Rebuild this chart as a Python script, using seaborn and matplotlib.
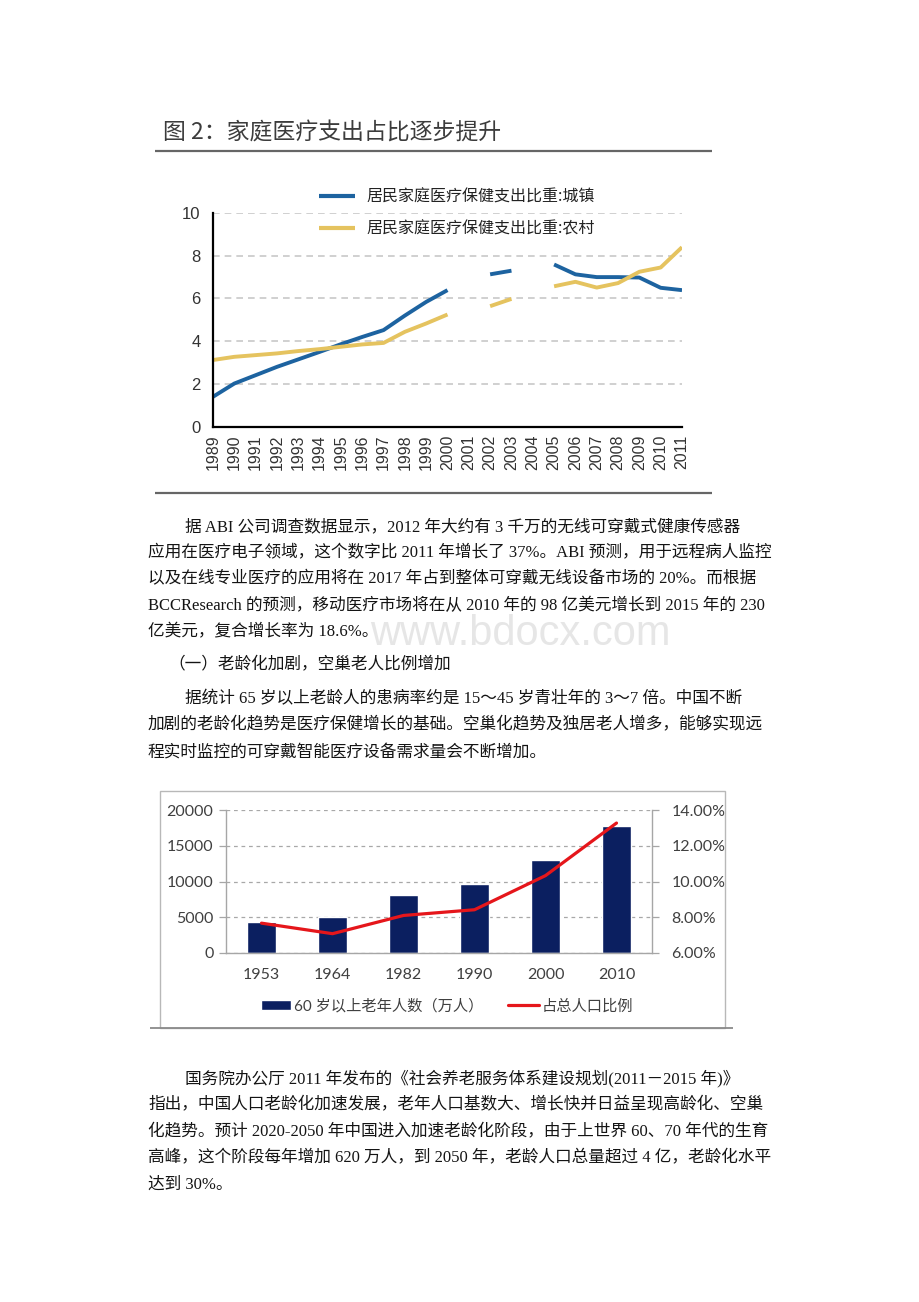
import numpy as np
import pandas as pd
import matplotlib
matplotlib.use("Agg")
import matplotlib.pyplot as plt
import seaborn as sns
from matplotlib.lines import Line2D
from matplotlib.patches import Rectangle

# ---------------- data: chart 1 ----------------
years1 = list(range(1989, 2012))
urban = [1.40, 2.02, 2.41, 2.80, 3.15, 3.50, 3.86, 4.20, 4.52, 5.20, 5.84, 6.39,
         np.nan, 7.13, 7.30, np.nan, 7.59, 7.13, 7.00, 7.00, 6.98, 6.50, 6.39]
rural = [3.12, 3.27, 3.35, 3.43, 3.54, 3.63, 3.74, 3.85, 3.92, 4.44, 4.83, 5.25,
         np.nan, 5.64, 5.98, np.nan, 6.57, 6.78, 6.51, 6.72, 7.25, 7.45, 8.40]
series_names = ["居民家庭医疗保健支出比重:城镇", "居民家庭医疗保健支出比重:农村"]
yticks1 = [0, 2, 4, 6, 8, 10]
title1 = "图 2：家庭医疗支出占比逐步提升"

# ---------------- data: chart 2 ----------------
years2 = ["1953", "1964", "1982", "1990", "2000", "2010"]
elderly = [4300, 5000, 8100, 9700, 13000, 17800]
ratio = [7.67, 7.08, 8.10, 8.42, 10.33, 13.27]
yticks2_left = [0, 5000, 10000, 15000, 20000]
yticks2_right = [6, 8, 10, 12, 14]
legend2 = ["60 岁以上老年人数（万人）", "占总人口比例"]

# ---------------- body text ----------------
para1 = [
    "据 ABI 公司调查数据显示，2012 年大约有 3 千万的无线可穿戴式健康传感器",
    "应用在医疗电子领域，这个数字比 2011 年增长了 37%。ABI 预测，用于远程病人监控",
    "以及在线专业医疗的应用将在 2017 年占到整体可穿戴无线设备市场的 20%。而根据",
    "BCCResearch 的预测，移动医疗市场将在从 2010 年的 98 亿美元增长到 2015 年的 230",
    "亿美元，复合增长率为 18.6%。",
]
heading = "（一）老龄化加剧，空巢老人比例增加"
para2 = [
    "据统计 65 岁以上老龄人的患病率约是 15～45 岁青壮年的 3～7 倍。中国不断",
    "加剧的老龄化趋势是医疗保健增长的基础。空巢化趋势及独居老人增多，能够实现远",
    "程实时监控的可穿戴智能医疗设备需求量会不断增加。",
]
para3 = [
    "国务院办公厅 2011 年发布的《社会养老服务体系建设规划(2011－2015 年)》",
    "指出，中国人口老龄化加速发展，老年人口基数大、增长快并日益呈现高龄化、空巢",
    "化趋势。预计 2020-2050 年中国进入加速老龄化阶段，由于上世界 60、70 年代的生育",
    "高峰，这个阶段每年增加 620 万人，到 2050 年，老龄人口总量超过 4 亿，老龄化水平",
    "达到 30%。",
]
watermark = "www.bdocx.com"

# ---------------- style ----------------
sns.set_style("white")
plt.rcParams["font.family"] = ["Liberation Sans", "Noto Sans CJK SC", "DejaVu Sans"]
CJK = ["Noto Sans CJK SC", "DejaVu Sans"]
SERIF = ["Liberation Serif", "Noto Sans CJK SC"]
BLUE = "#1d63a0"
YELLOW = "#e5c35f"
NAVY = "#0b1f60"
RED = "#e5161b"

W, H = 920, 1302
fig = plt.figure(figsize=(W / 100, H / 100), dpi=100)
fig.patch.set_facecolor("white")


def rect(l, t, r, b):
    return [l / W, 1 - b / H, (r - l) / W, (b - t) / H]


def hline(x0, x1, y, color, lw):
    fig.add_artist(Line2D([x0 / W, x1 / W], [1 - y / H, 1 - y / H],
                          transform=fig.transFigure, color=color, lw=lw,
                          solid_capstyle="butt"))


def body(x, yc, s, size=12):
    fig.text(x / W, 1 - (yc + 6.3) / H, s, family=SERIF, fontsize=size,
             color="#141414", ha="left", va="baseline", zorder=3)


# watermark (behind everything)
fig.text(520 / W, 1 - 634 / H, watermark, family=["Liberation Sans"],
         fontsize=30, color="#e6e6e6", ha="center", va="center", zorder=0)

# ================= chart 1 =================
fig.text(163 / W, 1 - (131 + 8.6) / H, title1, family=CJK, fontsize=16.5,
         color="#3c3c3c", ha="left", va="baseline", weight="medium")
hline(155, 712, 151, "#666666", 1.6)
hline(155, 712, 493, "#666666", 1.6)

ax1 = fig.add_axes(rect(213, 213, 682, 426.7))
df1 = pd.DataFrame({
    "year": years1 * 2,
    "value": urban + rural,
    "series": [series_names[0]] * len(years1) + [series_names[1]] * len(years1),
})
df1["seg"] = df1.groupby("series")["value"].transform(lambda s: s.isna().cumsum())
df1 = df1.dropna()
sns.lineplot(data=df1, x="year", y="value", hue="series", units="seg",
             estimator=None, palette=[BLUE, YELLOW], lw=2.8, ax=ax1,
             solid_capstyle="butt")
ax1.set_xlim(years1[0], years1[-1])
ax1.set_ylim(0, 10)
ax1.set_xlabel("")
ax1.set_ylabel("")
ax1.set_yticks(yticks1)
ax1.set_yticklabels([str(v) for v in yticks1], family=["Liberation Sans"], fontsize=12, color="#333333")
ax1.set_xticks(years1)
ax1.set_xticklabels([str(y) for y in years1], rotation=90, family=["Liberation Sans"],
                    fontsize=11.5, color="#333333")
ax1.tick_params(axis="y", direction="out", length=4, width=1.4, color="black", pad=5)
ax1.tick_params(axis="x", direction="out", length=4, width=1.4, color="black", pad=1.5)
ax1.yaxis.grid(True, color="#c8c8c8", lw=1.2, ls=(0, (4, 3)))
ax1.xaxis.grid(False)
for side in ["top", "right"]:
    ax1.spines[side].set_visible(False)
for side in ["left", "bottom"]:
    ax1.spines[side].set_color("black")
    ax1.spines[side].set_linewidth(1.6)
ax1.set_facecolor("none")

handles, labels = ax1.get_legend_handles_labels()
for h in handles:
    h.set_linewidth(3.0)
ax1.legend(handles, labels, loc="upper left", bbox_to_anchor=(311 / W, 1 - 181 / H),
           bbox_transform=fig.transFigure, frameon=False, borderpad=0,
           prop={"family": CJK, "size": 11.5}, handlelength=2.25,
           handletextpad=0.7, labelspacing=0.9, labelcolor="#222222")

# ================= chart 2 =================
fig.add_artist(Rectangle((160 / W, 1 - 1028 / H), (725 - 160) / W, (1028 - 791) / H,
                         transform=fig.transFigure, fill=False, edgecolor="#b8b8b8", lw=1))
hline(150, 733, 1028, "#8a8a8a", 1.3)

ax2 = fig.add_axes(rect(226, 810, 652, 953))
sns.barplot(x=years2, y=elderly, color=NAVY, saturation=1, width=0.41,
            errorbar=None, ax=ax2)
ax2.set_axisbelow(True)
ax2.set_ylim(0, 20000)
ax2.set_yticks(yticks2_left)
ax2.set_yticklabels([str(v) for v in yticks2_left], family=["Lato"], fontsize=11.5, color="#404040")
ax2.yaxis.grid(True, color="#a8a8a8", lw=0.9, ls=(0, (3, 3)))
ax2.xaxis.grid(False)
ax2.set_xticks(np.arange(-0.5, len(years2), 1.0), minor=True)
ax2.tick_params(axis="x", which="major", length=0, pad=11, labelsize=11.5, labelcolor="#404040")
for t in ax2.get_xticklabels():
    t.set_family(["Lato"])
ax2.tick_params(axis="x", which="minor", length=4, width=0.9, color="#a6a6a6", direction="out")
ax2.tick_params(axis="y", length=5, width=0.9, color="#a6a6a6", direction="out", pad=4)
for side in ["top", "right"]:
    ax2.spines[side].set_visible(False)
for side in ["left", "bottom"]:
    ax2.spines[side].set_color("#a6a6a6")
    ax2.spines[side].set_linewidth(1.0)
ax2.set_xlabel("")
ax2.set_ylabel("")

ax2r = ax2.twinx()
sns.lineplot(x=np.arange(len(years2)), y=ratio, color=RED, lw=2.3, ax=ax2r,
             solid_capstyle="round")
ax2r.set_ylim(6, 14)
ax2r.set_yticks(yticks2_right)
ax2r.set_yticklabels(["%.2f%%" % v for v in yticks2_right], family=["Lato"], fontsize=11.5, color="#404040")
ax2r.tick_params(axis="y", length=5, width=0.9, color="#a6a6a6", direction="out", pad=9)
for side in ["top", "left", "bottom"]:
    ax2r.spines[side].set_visible(False)
ax2r.spines["right"].set_color("#a6a6a6")
ax2r.spines["right"].set_linewidth(1.0)
ax2r.set_ylabel("")
ax2.set_xlim(-0.5, len(years2) - 0.5)

bar_handle = ax2.patches[0]
line_handle = ax2r.lines[0]
ax2.legend([bar_handle, line_handle], legend2, loc="center left", ncol=2,
           bbox_to_anchor=(253 / W, 1 - 1006 / H), bbox_transform=fig.transFigure,
           frameon=False, borderpad=0, prop={"family": ["Lato", "Noto Sans CJK SC"], "size": 11},
           handlelength=2.0, handleheight=0.7, handletextpad=0.2, columnspacing=1.6,
           labelcolor="#404040")

# ================= body text =================
ys1 = [525, 551, 577, 604, 630]
for i, (s, y) in enumerate(zip(para1, ys1)):
    body(185 if i == 0 else 148, y, s)
body(168, 663, heading)
ys2 = [697, 723, 750]
for i, (s, y) in enumerate(zip(para2, ys2)):
    body(185 if i == 0 else 148, y, s)
ys3 = [1077, 1103, 1130, 1156, 1182]
for i, (s, y) in enumerate(zip(para3, ys3)):
    body(185 if i == 0 else 148, y, s)

fig.savefig("out.png", dpi=100, facecolor="white")
